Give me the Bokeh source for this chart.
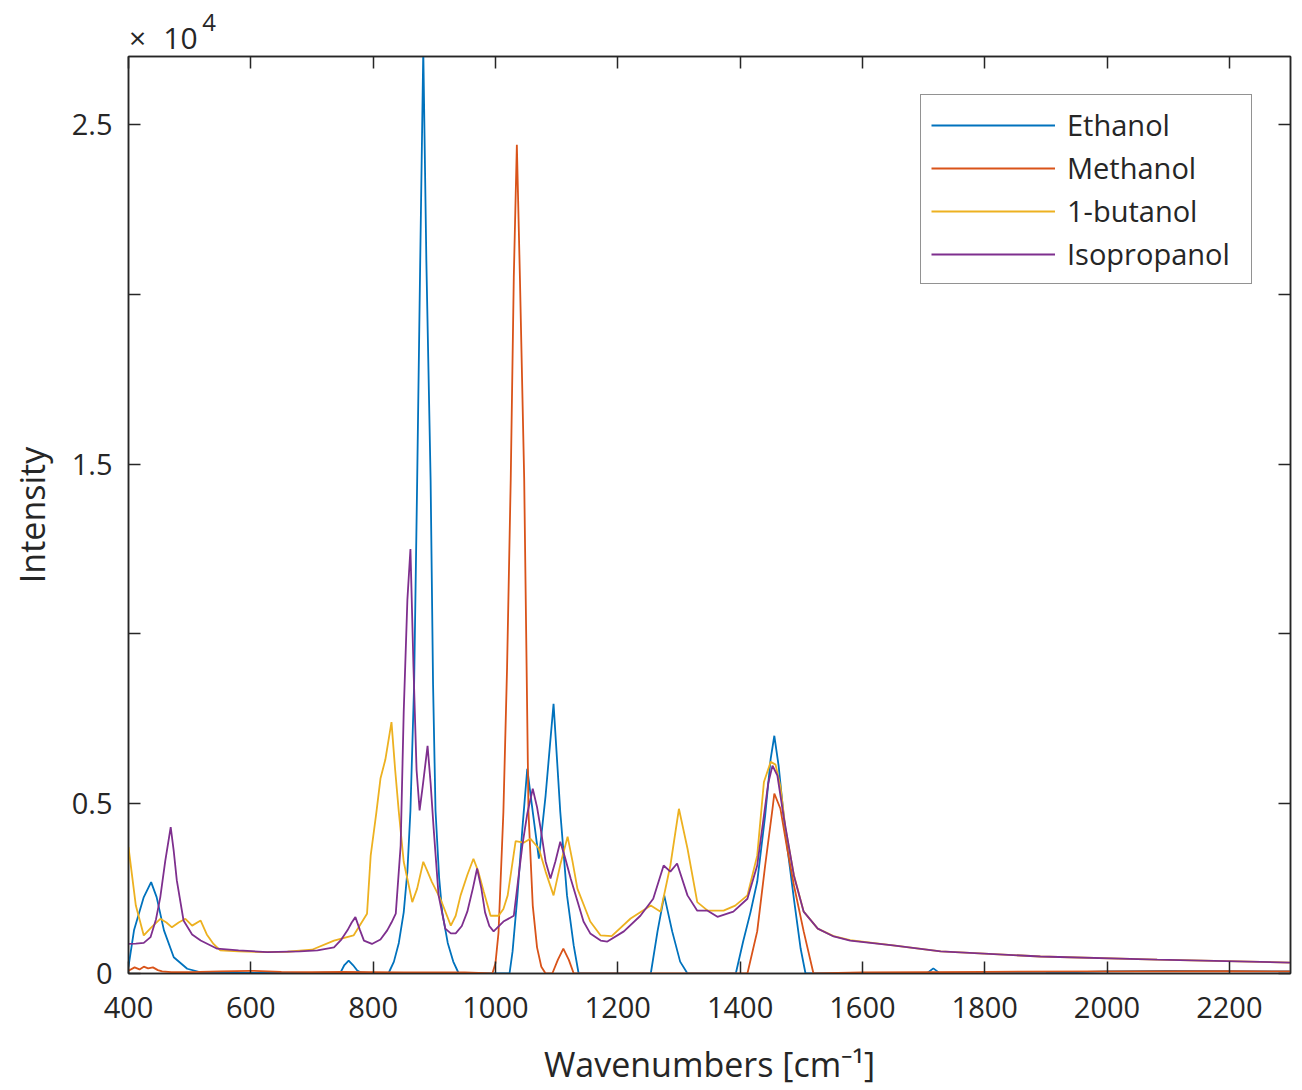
from bokeh.plotting import figure
from bokeh.models import LinearAxis, Legend, LegendItem, FixedTicker, Range1d
from bokeh.embed import file_html
from bokeh.resources import INLINE

# ---------------- data ----------------
ethanol_x = [400, 409, 425, 437, 446, 458, 474, 496, 518, 600, 700, 740, 747, 753, 760, 767, 774, 780, 800,
             825, 834, 842, 850, 856, 861, 867, 872, 877, 882, 887, 894, 898, 902, 908, 913, 922, 931, 940,
             960, 1000, 1023, 1028, 1036, 1044, 1052, 1061, 1071, 1082, 1095, 1106, 1117, 1128, 1136, 1160,
             1200, 1254, 1265, 1276, 1289, 1302, 1314, 1350, 1393, 1405, 1417, 1428, 1441, 1450, 1456, 1463,
             1474, 1488, 1499, 1507, 1550, 1650, 1705, 1716, 1727, 1800, 1900, 2000, 2100, 2200, 2300]
ethanol_y = [200, 1270, 2250, 2690, 2250, 1270, 480, 140, 30, 20, 20, 30, 40, 250, 380, 250, 90, 30, 10,
             0, 350, 900, 1800, 3000, 4800, 8500, 14500, 21000, 27200, 21000, 14500, 8500, 4800, 2800, 1800,
             900, 350, 0, 0, 0, 0, 650, 2300, 4260, 6030, 4760, 3380, 5240, 7940, 4760, 2300, 820, 0, 0,
             0, 0, 1240, 2300, 1240, 350, 0, 0, 0, 940, 1800, 2700, 4650, 6320, 7000, 6120,
             4170, 2200, 735, 0, 0, 0, 0, 150, 0, 0, 20, 60, 80, 70, 60]

methanol_x = [400, 410, 418, 425, 432, 440, 448, 455, 470, 500, 550, 600, 650, 700, 750, 800, 850, 900, 950,
              995, 1000, 1005, 1013, 1019, 1025, 1030, 1035, 1040, 1047, 1054, 1061, 1068, 1075, 1082, 1093,
              1102, 1111, 1120, 1128, 1200, 1300, 1400, 1412, 1428, 1441, 1453, 1456, 1466, 1477, 1488, 1504,
              1520, 1600, 1800, 2000, 2200, 2300]
methanol_y = [80, 180, 120, 200, 150, 180, 100, 60, 40, 40, 60, 80, 50, 40, 50, 40, 30, 30, 30,
              0, 300, 1200, 4760, 9000, 14560, 20500, 24400, 20500, 14560, 4760, 2000, 770, 200, 0, 0,
              400, 735, 400, 0, 0, 0, 0, 0, 1240, 3180, 4850, 5300, 4850, 3680, 2600, 1240,
              0, 30, 50, 60, 70, 60]

butanol_x = [400, 412, 425, 437, 452, 462, 471, 482, 493, 504, 518, 528, 539, 550, 580, 620, 660, 700, 736,
             768, 790, 796, 805, 812, 820, 830, 836, 842, 850, 857, 864, 872, 882, 889, 896, 910, 927, 935,
             943, 954, 964, 972, 981, 992, 1005, 1013, 1020, 1033, 1046, 1057, 1071, 1082, 1095, 1106, 1118,
             1126, 1134, 1155, 1172, 1190, 1221, 1254, 1270, 1286, 1300, 1314, 1330, 1347, 1373, 1392, 1412,
             1428, 1439, 1450, 1458, 1466, 1474, 1488, 1504, 1527, 1553, 1580, 1650, 1728, 1891, 2082, 2300]
butanol_y = [3720, 2000, 1120, 1350, 1610, 1500, 1360, 1500, 1610, 1410, 1560, 1150, 870, 680, 650, 630, 640,
             700, 970, 1120, 1760, 3470, 4700, 5740, 6300, 7400, 6000, 4760, 3290, 2700, 2100, 2500, 3290,
             3000, 2700, 2200, 1410, 1700, 2300, 2900, 3380, 3000, 2400, 1700, 1700, 1900, 2300, 3900, 3850,
             3970, 3680, 3000, 2300, 3200, 4030, 3300, 2500, 1530, 1120, 1100, 1620, 2000, 1820, 3180, 4850,
             3680, 2100, 1850, 1850, 2000, 2300, 3470, 5640, 6230, 6150, 5500, 4300, 2900, 1820, 1320, 1100,
             980, 830, 650, 500, 410, 320]

isopropanol_x = [400, 412, 425, 436, 445, 452, 460, 469, 474, 479, 490, 504, 518, 545, 580, 627, 680, 709,
                 736, 748, 758, 765, 771, 778, 785, 798, 812, 823, 830, 837, 845, 850, 856, 861, 866, 871,
                 876, 881, 889, 894, 899, 907, 918, 927, 935, 945, 954, 963, 970, 977, 983, 990, 997, 1013,
                 1030, 1044, 1052, 1061, 1068, 1074, 1082, 1090, 1098, 1106, 1114, 1123, 1144, 1155, 1172,
                 1183, 1210, 1237, 1258, 1275, 1286, 1297, 1314, 1330, 1347, 1363, 1389, 1412, 1428, 1439,
                 1446, 1453, 1461, 1471, 1488, 1504, 1527, 1553, 1580, 1650, 1728, 1891, 2082, 2300]
isopropanol_y = [870, 880, 900, 1070, 1600, 2250, 3300, 4310, 3600, 2740, 1560, 1150, 970, 730, 680, 630, 650,
                 680, 770, 1000, 1270, 1500, 1660, 1300, 970, 870, 1000, 1270, 1500, 1760, 3770, 7700, 11000,
                 12500, 9000, 6000, 4800, 5500, 6700, 5600, 4260, 2300, 1320, 1180, 1180, 1400, 1820, 2500,
                 3090, 2500, 1800, 1400, 1240, 1530, 1700, 3770, 4700, 5440, 4900, 4260, 3300, 2800, 3300,
                 3880, 3400, 2800, 1530, 1180, 970, 940, 1240, 1700, 2200, 3180, 3000, 3240, 2300, 1850,
                 1850, 1670, 1820, 2200, 3180, 4650, 5600, 6120, 5830, 4650, 2880, 1820, 1320, 1090, 970,
                 830, 650, 500, 410, 320]

series_names = ["Ethanol", "Methanol", "1-butanol", "Isopropanol"]
series_colors = ["#0072BD", "#D95319", "#EDB120", "#7E2F8E"]

x_ticks = [400, 600, 800, 1000, 1200, 1400, 1600, 1800, 2000, 2200]
y_ticks_labelled = [0, 5000, 15000, 25000]
y_tick_labels = {0: "0", 5000: "0.5", 15000: "1.5", 25000: "2.5"}
y_ticks_unlabelled = [10000, 20000]
y_ticks_all = [0, 5000, 10000, 15000, 20000, 25000]
exponent_parts = ["\u00d7", "10"]
exponent_power = "4"

# ---------------- figure ----------------
FONT = "Open Sans"
DARK = "#262626"
X0, X1 = 400, 2300
FRAME_W = 1162

p = figure(width=1298, height=1090, output_backend="svg", toolbar_location=None,
           x_range=Range1d(X0, X1), y_range=Range1d(0, 27000),
           min_border_left=128, min_border_right=8, min_border_top=56, min_border_bottom=117,
           x_axis_label="Wavenumbers [cm\u207b\u00b9]", y_axis_label="Intensity")
p.background_fill_color = "white"
p.border_fill_color = "white"
p.grid.visible = False
p.outline_line_color = DARK
p.outline_line_width = 1.5


def style_ticks(ax):
    for kind in ("major", "minor"):
        setattr(ax, kind + "_tick_in", 12)
        setattr(ax, kind + "_tick_out", 0)
        setattr(ax, kind + "_tick_line_color", DARK)
        setattr(ax, kind + "_tick_line_width", 1.5)
    ax.axis_line_color = DARK
    ax.axis_line_width = 1.5


xa = p.xaxis[0]
ya = p.yaxis[0]
xa.ticker = FixedTicker(ticks=x_ticks, minor_ticks=[])
ya.ticker = FixedTicker(ticks=y_ticks_labelled, minor_ticks=y_ticks_unlabelled)
ya.major_label_overrides = y_tick_labels
for ax in (xa, ya):
    style_ticks(ax)
    ax.major_label_text_font = FONT
    ax.major_label_text_font_size = "29px"
    ax.major_label_text_color = DARK
    ax.axis_label_text_font = FONT
    ax.axis_label_text_font_size = "34px"
    ax.axis_label_text_font_style = "normal"
    ax.axis_label_text_color = DARK
xa.major_label_standoff = 23
xa.axis_label_standoff = 20
ya.major_label_standoff = 16
ya.axis_label_standoff = 14


def px_to_x(px):
    # pixel offset from the frame's left edge -> data x (for placing the exponent text)
    return int(round(X0 + px * (X1 - X0) / FRAME_W))


# top axis: inward tick marks + the "x 10" part of the exponent marker
exp_pos = [px_to_x(9), px_to_x(52)]
top = LinearAxis(ticker=FixedTicker(ticks=exp_pos, minor_ticks=x_ticks))
style_ticks(top)
top.major_tick_in = 0
top.major_tick_out = 0
top.major_label_overrides = {k: t for k, t in zip(exp_pos, exponent_parts)}
top.major_label_standoff = -1
top.major_label_text_font = FONT
top.major_label_text_font_size = "30px"
top.major_label_text_color = DARK
p.add_layout(top, "above")

# second (invisible) top axis carrying the raised power "4"
pow_pos = [px_to_x(81)]
top2 = LinearAxis(ticker=FixedTicker(ticks=pow_pos, minor_ticks=[]))
top2.axis_line_color = None
top2.major_tick_line_color = None
top2.minor_tick_line_color = None
top2.major_tick_in = 0
top2.major_tick_out = 0
top2.major_label_overrides = {pow_pos[0]: exponent_power}
top2.major_label_standoff = -17
top2.major_label_text_font = FONT
top2.major_label_text_font_size = "24px"
top2.major_label_text_color = DARK
p.add_layout(top2, "above")

right = LinearAxis(ticker=FixedTicker(ticks=[], minor_ticks=y_ticks_all))
style_ticks(right)
p.add_layout(right, "right")

xs = [ethanol_x, methanol_x, butanol_x, isopropanol_x]
ys = [ethanol_y, methanol_y, butanol_y, isopropanol_y]
items = []
for name, color, x, y in zip(series_names, series_colors, xs, ys):
    r = p.line(x, y, line_color=color, line_width=1.8)
    items.append(LegendItem(label=name, renderers=[r]))

legend = Legend(items=items, location="top_right")
legend.margin = 38
legend.padding = 10
legend.spacing = 4
legend.glyph_width = 124
legend.glyph_height = 36
legend.label_height = 36
legend.label_width = 174
legend.label_standoff = 12
legend.label_text_font = FONT
legend.label_text_font_size = "29px"
legend.label_text_color = DARK
legend.border_line_color = DARK
legend.border_line_width = 1.5
legend.background_fill_color = "white"
legend.background_fill_alpha = 1.0
p.add_layout(legend, "center")

open("out.html", "w").write(file_html(p, INLINE))
